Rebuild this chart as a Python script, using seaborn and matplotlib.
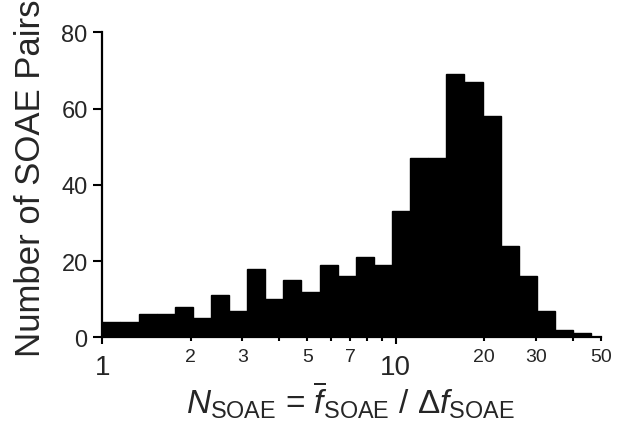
import numpy as np
import pandas as pd
import matplotlib
matplotlib.use('Agg')
import matplotlib.pyplot as plt
import seaborn as sns
from matplotlib.ticker import FixedLocator, FixedFormatter

# histogram of N_SOAE, bins of equal width in log10 units, starting at N = 1
bin_width_log = 0.0617
counts = [4, 4, 6, 6, 8, 5, 11, 7, 18, 10, 15, 12, 19, 16, 21, 19,
          33, 47, 47, 69, 67, 58, 24, 16, 7, 2, 1]
major_ticks = [1, 10]
major_labels = ['1', '10']
minor_ticks = [2, 3, 4, 5, 6, 7, 8, 9, 20, 30, 40, 50]
minor_labels = ['2', '3', '', '5', '', '7', '', '', '20', '30', '', '50']
y_ticks = [0, 20, 40, 60, 80]

edges_log = np.arange(len(counts) + 1) * bin_width_log
df = pd.DataFrame({'N': 10 ** ((edges_log[:-1] + edges_log[1:]) / 2),
                   'count': counts})

sns.set_style('ticks')
plt.rcParams['font.family'] = ['Liberation Sans', 'DejaVu Sans']
plt.rcParams['mathtext.fontset'] = 'custom'
plt.rcParams['mathtext.rm'] = 'Liberation Sans'
plt.rcParams['mathtext.it'] = 'Liberation Sans:italic'

fig = plt.figure(figsize=(6.26, 4.27), dpi=100)
ax = fig.add_axes([0.1634, 0.2077, 0.7966, 0.7143])

sns.histplot(data=df, x='N', weights='count', log_scale=True,
             binwidth=bin_width_log, binrange=(0, edges_log[-1]),
             color='black', alpha=1, edgecolor='black', linewidth=1, ax=ax)

ax.set_xlim(1, 50)
ax.set_ylim(0, 80)
ax.xaxis.set_major_locator(FixedLocator(major_ticks))
ax.xaxis.set_major_formatter(FixedFormatter(major_labels))
ax.xaxis.set_minor_locator(FixedLocator(minor_ticks))
ax.xaxis.set_minor_formatter(FixedFormatter(minor_labels))
ax.set_yticks(y_ticks)

ax.tick_params(axis='x', which='major', length=5, width=1.5, labelsize=20, pad=7, color='black')
ax.tick_params(axis='x', which='minor', length=3, width=1.5, labelsize=14, pad=5, color='black')
ax.tick_params(axis='y', length=6.5, width=1.5, labelsize=17, pad=4, color='black')

sns.despine(ax=ax)
for s in ['left', 'bottom']:
    ax.spines[s].set_linewidth(1.6)
    ax.spines[s].set_color('black')

ax.set_ylabel('Number of SOAE Pairs', fontsize=25)
ax.yaxis.set_label_coords(-0.111, 0.525)
ax.set_xlabel(r'$N_{\mathrm{SOAE}}$ = $\overline{f}_{\mathrm{SOAE}}$ / $\Delta f_{\mathrm{SOAE}}$',
              fontsize=24, va='top')
ax.xaxis.set_label_coords(0.497, -0.135)

fig.savefig('out.png', dpi=100)
